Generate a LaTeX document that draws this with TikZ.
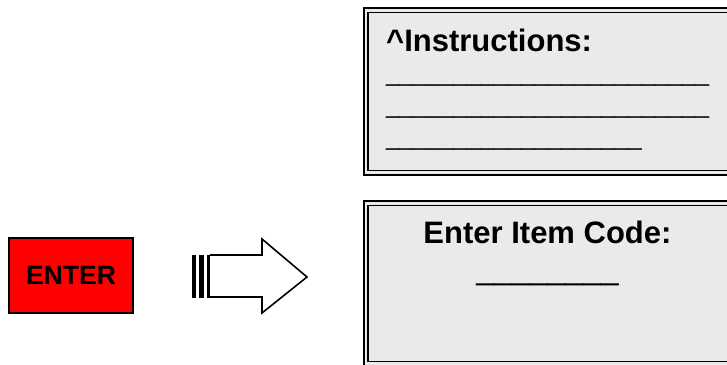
\documentclass[tikz,border=0pt]{standalone}
\usepackage{fontspec}
\setmainfont{Liberation Sans}
\newcommand\myunders[1]{\foreach \i in {1,...,#1}{\textunderscore}}
\tikzset{
  panelouter/.style={draw=black, line width=2pt, fill=panelgray},
  panelinner/.style={draw=black, line width=1.3pt},
  headtxt/.style={inner sep=0pt, font=\bfseries\fontsize{31}{36}\selectfont},
  linetxt/.style={inner sep=0pt, font=\fontsize{24.2}{28}\selectfont},
  keybox/.style={draw=black, line width=1.5pt, fill=red, minimum width=124pt, minimum height=75pt, inner sep=0pt,
    font=\bfseries\fontsize{26.5}{30}\selectfont},
  stripe/.style={fill=black, draw=none},
  arrowbody/.style={draw=black, line width=1.6pt, fill=white, line join=miter}
}
\definecolor{panelgray}{RGB}{234,234,234}
\begin{document}
\begin{tikzpicture}[x=1pt,y=-1pt]
\useasboundingbox (0,0) rectangle (727,364);
\clip (0,0) rectangle (727,364);
% top panel
\draw[panelouter] (363.7,8.3) rectangle (745,175.3);
\draw[panelinner] (368,12.7) rectangle (745,170.7);
\node[headtxt, anchor=base west] (instr) at (386,51.7) {\^{}Instructions:};
\node[linetxt, anchor=base west] (l1) at (386,81.5) {\myunders{24}};
\node[linetxt, anchor=base west] (l2) at (386,113.5) {\myunders{24}};
\node[linetxt, anchor=base west] (l3) at (386,145.5) {\myunders{19}};
% bottom panel
\draw[panelouter] (363.7,200.7) rectangle (745,380);
\draw[panelinner] (368,205.3) rectangle (745,361.7);
\node[headtxt, anchor=base] (code) at (547.5,243.3) {Enter Item Code:};
\node[inner sep=0pt, anchor=base, font=\fontsize{32}{36}\selectfont] (codeline) at (547.6,279.5) {\myunders{8}};
% enter key
\node[keybox] (enter) at (71,275.5) {ENTER};
% striped arrow
\fill[stripe] (191.8,254.5) rectangle (196.2,297.5);
\fill[stripe] (199.4,254.5) rectangle (203.8,297.5);
\fill[stripe] (206.8,254.5) rectangle (210.6,297.5);
\draw[arrowbody] (210,255) -- (262,255) -- (262,239) -- (307,277) -- (262,313) -- (262,297) -- (210,297);
\end{tikzpicture}
\end{document}
